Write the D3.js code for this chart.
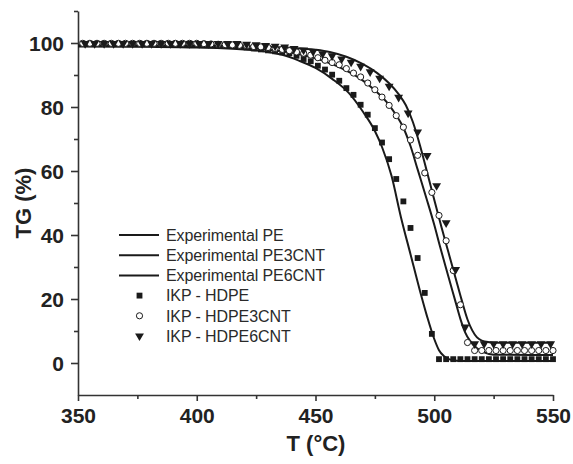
<!DOCTYPE html>
<html>
<head>
<meta charset="utf-8">
<script src="https://cdn.jsdelivr.net/npm/d3@7"></script>
<style>
  html, body { margin: 0; padding: 0; background: #fff; }
  svg { display: block; }
  text { font-family: "Liberation Sans", Arial, sans-serif; }
</style>
</head>
<body>
<svg id="chart" width="573" height="464"></svg>
<script>
// ---------------- DATA ----------------
const xTicksMajor = [350, 400, 450, 500, 550];
const xTicksMinor = [375, 425, 475, 525];
const yTicksMajor = [0, 20, 40, 60, 80, 100];
const yTicksMinor = [10, 30, 50, 70, 90, 110];

// Experimental curves (T, TG%)
const expPE_T = [350, 380, 400, 420, 430, 436, 443, 450, 457, 464, 470, 475, 478, 482, 486, 490, 494, 497, 500, 502, 504, 507, 512, 550];
const expPE_V = [98.9, 98.8, 98.6, 98.0, 97.2, 96.3, 94.5, 92.2, 88.8, 84.4, 78.5, 72.5, 67.5, 58.5, 45.5, 34, 22.5, 14.5, 7.5, 4.0, 2.2, 1.0, 0.6, 0.6];

const expPE3_T = [350, 400, 430, 450, 457, 463, 469, 475, 481, 484, 486.7, 490, 493, 496.7, 500, 502.4, 505, 508.7, 511, 513, 515, 518, 521, 525, 550];
const expPE3_V = [99.1, 98.9, 97.9, 95.2, 93.4, 91.4, 88.8, 85.2, 80.6, 77.4, 74.0, 67.8, 60.5, 51.5, 43.2, 36.5, 29.5, 19.8, 13.8, 9.6, 7.0, 4.6, 3.3, 2.6, 2.5];

const expPE6_T = [350, 400, 430, 440, 450, 456, 463, 470, 476, 481, 485, 488, 491, 494, 497, 500, 503, 506, 509, 511.5, 514, 516, 518, 520, 523, 527, 550];
const expPE6_V = [99.3, 99.2, 98.8, 98.5, 97.9, 97.2, 95.7, 93.4, 90.6, 87.4, 84.0, 80.6, 75.3, 68.0, 59.6, 51.0, 42.6, 34.5, 26.5, 19.8, 13.6, 10.2, 8.0, 7.0, 6.5, 6.3, 6.3];

// IKP model points
const ikpHDPE_T = d3.range(352, 551, 3);
const ikpHDPE_V = [
  99.8, 99.8, 99.8, 99.8, 99.8, 99.8, 99.8, 99.8, 99.8, 99.8, 99.8, 99.8, 99.8, 99.8, 99.8, 99.8,
  99.7, 99.6, 99.5, 99.4, 99.3, 99.1, 98.9, 98.6, 98.3, 98.0, 97.7, 97.4, 97.1, 96.8,
  96.0, 95.0, 94.3, 92.9, 91.7, 90.1, 88.2, 85.9, 83.8, 80.7, 77.6, 73.4, 68.9, 63.7,
  57.5, 50.5, 42.2, 32.8, 21.9, 9.1,
  1.2, 1.2, 1.2, 1.2, 1.2, 1.2, 1.2, 1.2, 1.2, 1.2, 1.2, 1.2, 1.2, 1.2, 1.2, 1.2, 1.2
];

const ikpHDPE3_T = d3.range(352, 551, 3);
const ikpHDPE3_V = [
  99.9, 99.9, 99.9, 99.9, 99.9, 99.9, 99.9, 99.9, 99.9, 99.9, 99.9, 99.9, 99.9, 99.9, 99.9, 99.9,
  99.9, 99.8, 99.7, 99.6, 99.5, 99.4, 99.3, 99.1, 98.9, 98.8, 98.6, 98.3, 98.0, 97.6,
  97.2, 96.8, 96.2, 95.4, 94.6, 93.9, 93.2, 92.0, 90.6, 89.4, 87.5, 85.4, 83.1, 80.5,
  77.3, 73.7, 69.7, 64.9, 59.4, 53.3, 46.1, 38.2, 28.9, 18.2, 6.4,
  3.9, 3.9, 3.9, 3.9, 3.9, 3.9, 3.9, 3.9, 3.9, 3.9, 3.9, 3.9
];

const ikpHDPE6_T = d3.range(353, 550, 4);
const ikpHDPE6_V = [
  99.8, 99.8, 99.8, 99.8, 99.8, 99.8, 99.8, 99.8, 99.8, 99.8, 99.8, 99.8, 99.8, 99.8, 99.8, 99.8, 99.8,
  99.6, 99.4, 99.2, 99.0, 98.7, 98.3, 97.8, 97.3, 96.6, 96.0, 95.0, 94.0, 92.7, 91.0, 89.0, 86.5,
  83.0, 78.1, 72.2, 64.8, 55.4, 43.8, 29.2, 11.2,
  6.0, 6.0, 6.0, 6.0, 6.0, 6.0, 6.0, 6.0, 6.0
];

const legendLabels = ["Experimental PE", "Experimental PE3CNT", "Experimental PE6CNT",
                      "IKP - HDPE", "IKP - HDPE3CNT", "IKP - HDPE6CNT"];

// ---------------- CHART ----------------
const svg = d3.select("#chart");
const ink = "#1a1a1a";
const axisInk = "#333";

const x = d3.scaleLinear().domain([350, 550]).range([78, 553]);
const y = d3.scaleLinear().domain([-10, 110]).range([395, 11]);

const zip = (a, b) => a.map((t, i) => [t, b[i]]);

// Axes
const gx = svg.append("g").attr("transform", `translate(0,${y(-10)})`);
gx.call(d3.axisBottom(x).tickValues(xTicksMajor).tickSize(6).tickSizeOuter(0).tickFormat(d3.format("d")));
const gxm = svg.append("g").attr("transform", `translate(0,${y(-10)})`);
gxm.call(d3.axisBottom(x).tickValues(xTicksMinor).tickSize(4).tickSizeOuter(0).tickFormat(""));
gxm.select(".domain").remove();

const gy = svg.append("g").attr("transform", `translate(${x(350)},0)`);
gy.call(d3.axisLeft(y).tickValues(yTicksMajor).tickSize(7).tickSizeOuter(0).tickFormat(d3.format("d")));
const gym = svg.append("g").attr("transform", `translate(${x(350)},0)`);
gym.call(d3.axisLeft(y).tickValues(yTicksMinor).tickSize(4).tickSizeOuter(0).tickFormat(""));
gym.select(".domain").remove();

svg.selectAll(".domain, .tick line").attr("stroke", axisInk).attr("stroke-width", 1.6);
gx.selectAll(".tick text").attr("font-size", 21).attr("font-weight", "bold").attr("fill", "#222")
  .attr("dy", "0.95em").attr("y", 8).attr("font-family", "'Liberation Sans', Arial, sans-serif");
gy.selectAll(".tick text").attr("font-size", 21).attr("font-weight", "bold").attr("fill", "#222")
  .attr("x", -14).attr("dy", "0.36em").attr("font-family", "'Liberation Sans', Arial, sans-serif");

// Axis titles
svg.append("text").attr("x", 316).attr("y", 451).attr("text-anchor", "middle")
  .attr("font-size", 22).attr("font-weight", "bold").attr("fill", "#222").text("T (°C)");
svg.append("text").attr("transform", "translate(31,203) rotate(-90)").attr("text-anchor", "middle")
  .attr("font-size", 22).attr("font-weight", "bold").attr("fill", "#222").text("TG (%)");

// Lines
const line = d3.line().x(d => x(d[0])).y(d => y(d[1])).curve(d3.curveMonotoneX);
[[expPE_T, expPE_V], [expPE3_T, expPE3_V], [expPE6_T, expPE6_V]].forEach(([t, v]) => {
  svg.append("path").datum(zip(t, v)).attr("d", line)
    .attr("fill", "none").attr("stroke", ink).attr("stroke-width", 2);
});

// Markers
const sqSym = d3.symbol().type(d3.symbolSquare).size(34);
const ciSym = d3.symbol().type(d3.symbolCircle).size(30);
const trSym = d3.symbol().type(d3.symbolTriangle).size(34);

svg.append("g").selectAll("path").data(zip(ikpHDPE_T, ikpHDPE_V)).join("path")
  .attr("d", sqSym).attr("transform", d => `translate(${x(d[0])},${y(d[1])})`).attr("fill", ink);
svg.append("g").selectAll("path").data(zip(ikpHDPE3_T, ikpHDPE3_V)).join("path")
  .attr("d", ciSym).attr("transform", d => `translate(${x(d[0])},${y(d[1])})`)
  .attr("fill", "#fff").attr("stroke", ink).attr("stroke-width", 1);
svg.append("g").selectAll("path").data(zip(ikpHDPE6_T, ikpHDPE6_V)).join("path")
  .attr("d", trSym).attr("transform", d => `translate(${x(d[0])},${y(d[1])}) rotate(180)`).attr("fill", ink);

// Legend
const lg = svg.append("g");
const rowY = i => 235 + i * 20.2;
legendLabels.forEach((lab, i) => {
  const yy = rowY(i);
  if (i < 3) {
    lg.append("line").attr("x1", 119).attr("x2", 159).attr("y1", yy).attr("y2", yy)
      .attr("stroke", ink).attr("stroke-width", 2);
  } else {
    const sym = [sqSym, ciSym, trSym][i - 3];
    const p = lg.append("path").attr("d", sym)
      .attr("transform", `translate(139.5,${yy})` + (i === 5 ? " rotate(180)" : ""));
    if (i === 4) p.attr("fill", "#fff").attr("stroke", ink).attr("stroke-width", 1);
    else p.attr("fill", ink);
  }
  lg.append("text").attr("x", 166).attr("y", yy).attr("dy", "0.36em")
    .attr("font-size", 16).attr("letter-spacing", "-0.1px").attr("fill", "#2a2a2a").text(lab);
});
</script>
</body>
</html>
